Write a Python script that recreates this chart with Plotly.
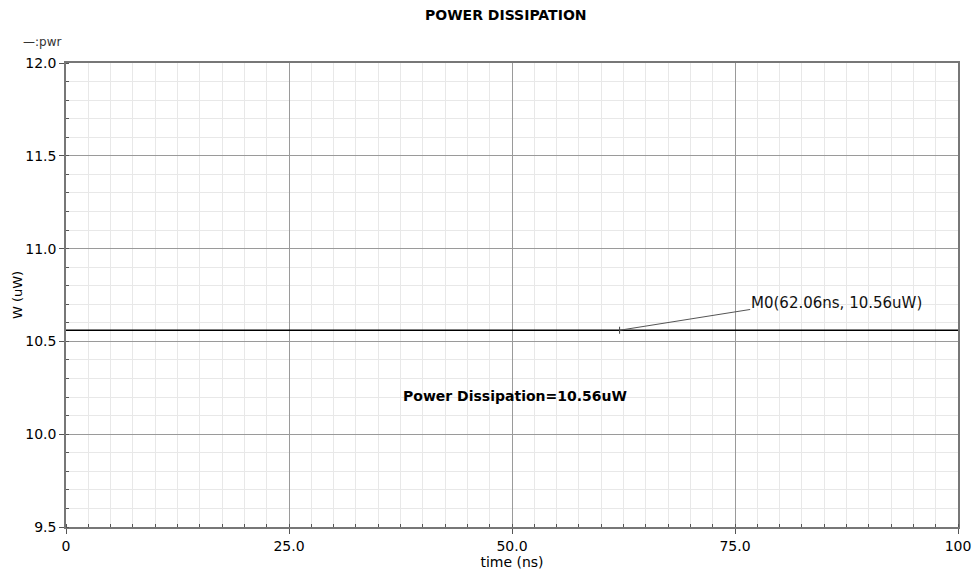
import plotly.graph_objects as go

# Simulated power waveform :pwr (constant over the transient run)
time_ns = [0, 100]
power_uw = [10.56, 10.56]

# Marker M0
marker_t = 62.06
marker_p = 10.56

x_tick_vals = [0, 25, 50, 75, 100]
x_tick_text = ["0", "25.0", "50.0", "75.0", "100"]
y_tick_vals = [9.5, 10.0, 10.5, 11.0, 11.5, 12.0]
y_tick_text = ["9.5", "10.0", "10.5", "11.0", "11.5", "12.0"]

FONT = "DejaVu Sans"

fig = go.Figure()
fig.add_trace(go.Scatter(
    x=time_ns, y=power_uw, mode="lines",
    line=dict(color="black", width=1.6), name=":pwr", showlegend=False,
    hoverinfo="skip",
))
# small vertical tick at the marker position
fig.add_trace(go.Scatter(
    x=[marker_t], y=[marker_p], mode="markers",
    marker=dict(symbol="line-ns", size=5, line=dict(color="#444", width=1)),
    showlegend=False, hoverinfo="skip",
))

# leader line from marker to its label
fig.add_shape(type="line", x0=marker_t, y0=marker_p, x1=76.7, y1=10.672,
              line=dict(color="#555", width=1), layer="above")
fig.add_annotation(x=76.6, y=10.705, text=f"M0({marker_t:.2f}ns, {marker_p:.2f}uW)",
                   showarrow=False, xanchor="left", yanchor="middle",
                   font=dict(family=FONT, size=15, color="#111"))
fig.add_annotation(x=50.3, y=10.204, text=f"<b>Power Dissipation={marker_p:.2f}uW</b>",
                   showarrow=False, xanchor="center", yanchor="middle",
                   font=dict(family=FONT, size=14, color="black"))

# legend-style label and title
fig.add_annotation(xref="paper", yref="paper", x=-0.05, y=1.045, text="\u2014:pwr",
                   showarrow=False, xanchor="left", yanchor="middle",
                   font=dict(family=FONT, size=12, color="#333"))
fig.add_annotation(xref="paper", yref="paper", x=0.493, y=1.103,
                   text="<b>POWER DISSIPATION</b>", showarrow=False,
                   xanchor="center", yanchor="middle",
                   font=dict(family=FONT, size=14, color="black"))

fig.update_xaxes(
    range=[0, 100], tickvals=x_tick_vals, ticktext=x_tick_text,
    showgrid=True, gridcolor="#9a9a9a", gridwidth=1,
    showline=True, linecolor="#777", linewidth=1.5, mirror=True,
    ticks="outside", ticklen=5, tickcolor="#555",
    tickfont=dict(family=FONT, size=14, color="black"),
    minor=dict(dtick=2.5, showgrid=True, gridcolor="#e8e8e8", gridwidth=1,
               ticks="inside", ticklen=3, tickcolor="#555"),
    zeroline=False, automargin=False,
    title=dict(text="time (ns)", font=dict(family=FONT, size=14, color="black"), standoff=0),
)
fig.update_yaxes(
    range=[9.5, 12.0], tickvals=y_tick_vals, ticktext=y_tick_text,
    showgrid=True, gridcolor="#9a9a9a", gridwidth=1,
    showline=True, linecolor="#777", linewidth=1.5, mirror=True,
    ticks="outside", ticklen=5, tickcolor="#555",
    tickfont=dict(family=FONT, size=14, color="black"),
    minor=dict(dtick=0.1, showgrid=True, gridcolor="#e8e8e8", gridwidth=1,
               ticks="inside", ticklen=3, tickcolor="#555"),
    zeroline=False, automargin=False,
    title=dict(text="W (uW)", font=dict(family=FONT, size=13, color="black"), standoff=0),
)

fig.update_layout(
    width=976, height=571,
    margin=dict(l=66, r=18, t=63, b=44),
    paper_bgcolor="white", plot_bgcolor="white",
    showlegend=False,
)

fig.write_html("out.html")
